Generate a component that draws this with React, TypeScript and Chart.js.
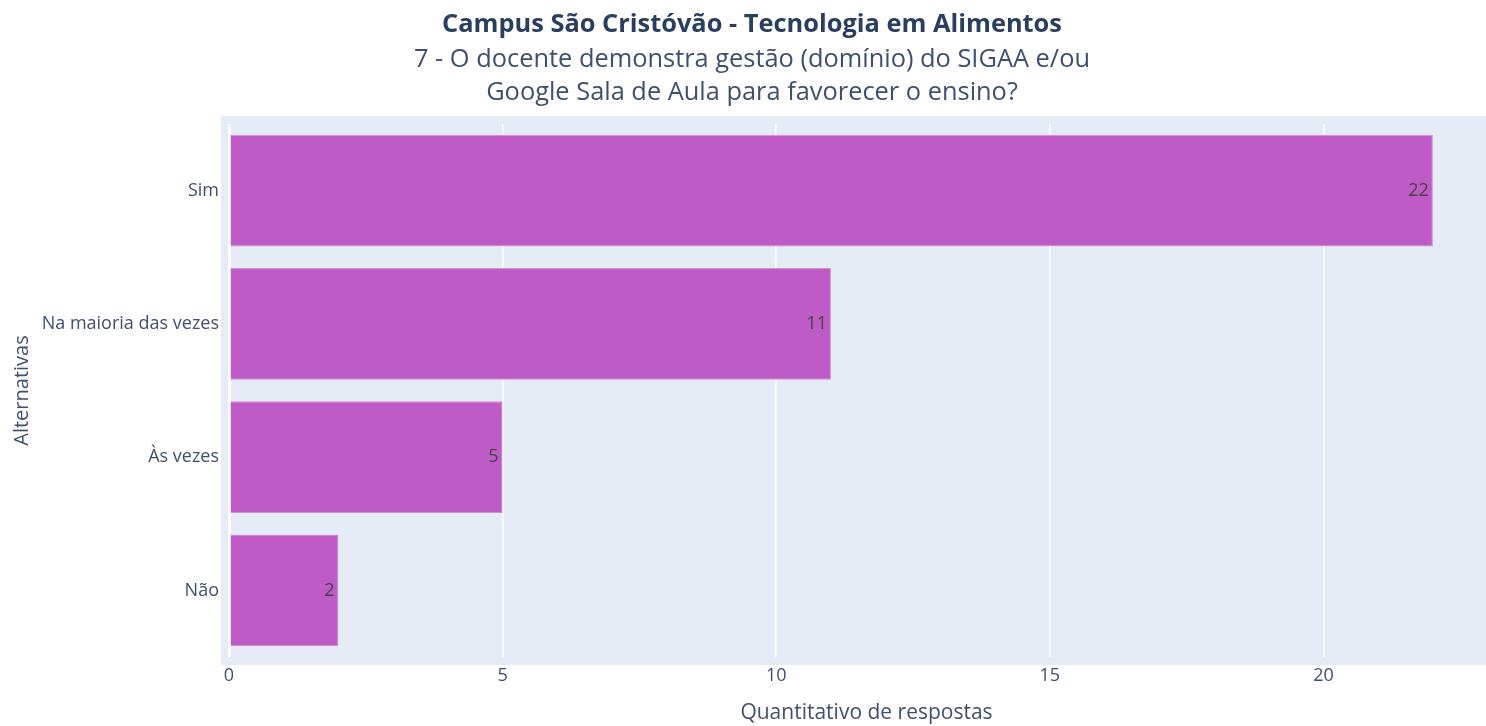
import React, { useEffect, useRef } from "react";
import { Chart, registerables } from "chart.js";

Chart.register(...registerables);

const categories = ["Sim", "Na maioria das vezes", "Às vezes", "Não"];
const values = [22, 11, 5, 2];
const titleText = "Campus São Cristóvão - Tecnologia em Alimentos";
const subtitleLines = [
  "7 - O docente demonstra gestão (domínio) do SIGAA e/ou",
  "Google Sala de Aula para favorecer o ensino?",
];
const xAxisTitle = "Quantitativo de respostas";
const yAxisTitle = "Alternativas";

const FONT = "'Open Sans', 'Noto Sans', sans-serif";
const TEXT = "#2a3f5f";
const SOFT = "#3e5070";

const bgPlugin = {
  id: "plotBg",
  beforeDraw(chart: any) {
    const { ctx, chartArea } = chart;
    ctx.save();
    ctx.fillStyle = "#e5ecf6";
    ctx.fillRect(chartArea.left - 8, chartArea.top - 8, chartArea.right - chartArea.left + 16, chartArea.bottom - chartArea.top + 16);
    ctx.restore();
  },
};

const labelPlugin = {
  id: "barLabels",
  afterDatasetsDraw(chart: any) {
    const { ctx } = chart;
    const meta = chart.getDatasetMeta(0);
    ctx.save();
    ctx.font = `18px ${FONT}`;
    ctx.fillStyle = "#444444";
    ctx.textAlign = "right";
    ctx.textBaseline = "middle";
    meta.data.forEach((bar: any, i: number) => {
      ctx.fillText(String(chart.data.datasets[0].data[i]), bar.x - 4, bar.y);
    });
    ctx.restore();
  },
};

export default function App() {
  const ref = useRef<HTMLCanvasElement>(null);
  useEffect(() => {
    if (!ref.current) return;
    const chart = new Chart(ref.current, {
      type: "bar",
      data: {
        labels: categories,
        datasets: [
          {
            data: values,
            backgroundColor: "#bf5bc7",
            borderColor: "#d28fd7",
            borderWidth: 1,
            categoryPercentage: 1,
            barPercentage: 0.84,
          },
        ],
      },
      options: {
        indexAxis: "y",
        animation: false,
        responsive: false,
        layout: { padding: 0 },
        plugins: {
          legend: { display: false },
          tooltip: { enabled: false },
          title: {
            display: true,
            text: titleText,
            color: TEXT,
            font: { family: FONT, size: 25.4, weight: "bold", lineHeight: 1.2 },
            padding: { top: 10, bottom: 3 },
          },
          subtitle: {
            display: true,
            text: subtitleLines,
            color: SOFT,
            font: { family: FONT, size: 25.4, weight: "normal", lineHeight: 1.3 },
            padding: { top: 0, bottom: 14.5 },
          },
        },
        scales: {
          x: {
            type: "linear",
            min: 0,
            max: 23.3,
            border: { display: false },
            grid: {
              color: "#ffffff",
              lineWidth: (c: any) => (c.tick && c.tick.value === 0 ? 3 : 1.5),
              drawTicks: false,
            },
            ticks: {
              stepSize: 5,
              includeBounds: false,
              padding: 8,
              color: SOFT,
              font: { family: FONT, size: 18 },
            },
            title: {
              display: true,
              text: xAxisTitle,
              color: SOFT,
              font: { family: FONT, size: 21, lineHeight: 1.2 },
              padding: { top: 0, bottom: 0 },
            },
            afterFit: (s: any) => {
              s.height = 69;
            },
          },
          y: {
            border: { display: false },
            grid: { display: false, drawTicks: false },
            ticks: {
              padding: 10,
              color: SOFT,
              font: { family: FONT, size: 18 },
            },
            title: {
              display: true,
              text: yAxisTitle,
              color: SOFT,
              font: { family: FONT, size: 20, lineHeight: 1.2 },
              padding: { top: 10, bottom: 0 },
            },
            afterFit: (s: any) => {
              s.width = 229;
            },
          },
        },
      },
      plugins: [bgPlugin, labelPlugin],
    });
    return () => chart.destroy();
  }, []);
  return (
    <div style={{ position: "fixed", left: 0, top: 0, width: 1486, height: 726, overflow: "hidden", background: "#fff" }}>
      <canvas ref={ref} width={1504} height={726} style={{ display: "block" }} />
    </div>
  );
}
